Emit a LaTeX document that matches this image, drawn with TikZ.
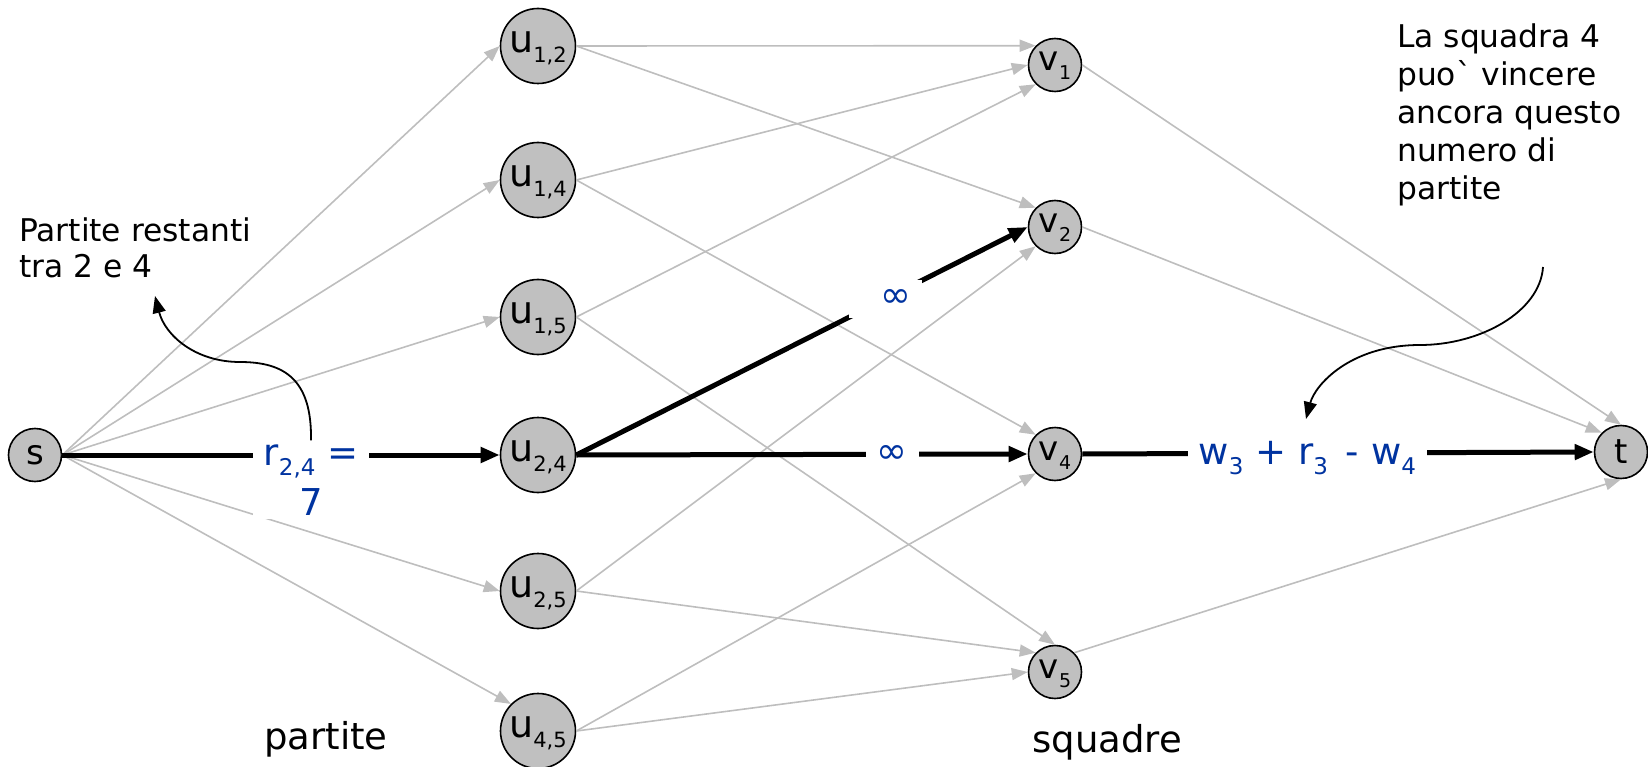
\documentclass[tikz,border=0pt]{standalone}
\usepackage{fontspec}
\setmainfont{DejaVu Sans}
\usetikzlibrary{arrows.meta}
\definecolor{nodegray}{RGB}{192,192,192}
\definecolor{edgegray}{RGB}{190,190,190}
\definecolor{labblue}{RGB}{0,51,160}
\newcommand\bignodefont{\fontsize{38}{44}\selectfont}
\newcommand\smallnodefont{\fontsize{34}{40}\selectfont}
\newcommand\usub[1]{\raisebox{-10pt}{\fontsize{21}{24}\selectfont #1}}
\newcommand\vsub[1]{\raisebox{-9pt}{\fontsize{19}{22}\selectfont #1}}
\newcommand\bsub[1]{\raisebox{-10pt}[0pt][0pt]{\fontsize{23}{27}\selectfont #1}}
\newcommand\bluefont{\fontsize{37}{50}\selectfont}
\newcommand\notefont{\fontsize{31.3}{36}\selectfont}
\newcommand\noteRfont{\fontsize{31.3}{38}\selectfont}
\newcommand\groupfont{\fontsize{37}{44}\selectfont}
\begin{document}
\begin{tikzpicture}[x=1pt,y=-1pt,
  vtx/.style={circle,draw=black,line width=1.6pt,fill=nodegray,inner sep=0pt},
  bigvtx/.style={vtx,minimum size=75pt,font=\bignodefont,text height=22pt,text depth=9pt},
  smallvtx/.style={vtx,minimum size=53pt,font=\smallnodefont},
  vvtx/.style={smallvtx,text height=19pt,text depth=7pt},
  gedge/.style={draw=edgegray,line width=1.6pt,-{Triangle[length=16pt,width=12pt]}},
  bedge/.style={draw=black,line width=5pt,-{Triangle[length=19pt,width=15pt]}},
  blab/.style={fill=white,text=labblue,font=\bluefont,inner xsep=11pt,inner ysep=4pt},
  notetext/.style={inner sep=0pt,align=left,anchor=north west},
  grouptext/.style={inner sep=0pt,font=\groupfont,anchor=base},
  notearrow/.style={draw=black,line width=1.8pt,-{Triangle[length=17pt,width=13pt]}}]
\useasboundingbox (0,0) rectangle (1648,767);

% nodes
\node[smallvtx] (s) at (35,455) {s};
\node[bigvtx] (u12) at (538,46)  {u\usub{1,2}};
\node[bigvtx] (u14) at (538,180) {u\usub{1,4}};
\node[bigvtx] (u15) at (538,317) {u\usub{1,5}};
\node[bigvtx] (u24) at (538,455) {u\usub{2,4}};
\node[bigvtx] (u25) at (538,591) {u\usub{2,5}};
\node[bigvtx] (u45) at (538,731) {u\usub{4,5}};
\node[vvtx] (v1) at (1055,65)  {v\vsub{1}};
\node[vvtx] (v2) at (1055,227) {v\vsub{2}};
\node[vvtx] (v4) at (1055,454) {v\vsub{4}};
\node[vvtx] (v5) at (1055,672) {v\vsub{5}};
\node[smallvtx] (t) at (1621,452) {t};

% gray edges
\draw[gedge] (s.east) -- (u12.west);
\draw[gedge] (s.east) -- (u14.west);
\draw[gedge] (s.east) -- (u15.west);
\draw[gedge] (s.east) -- (u25.west);
\draw[gedge] (s.east) -- (u45.north west);
\draw[gedge] (u12.east) -- (v1.north west);
\draw[gedge] (u12.east) -- (v2.north west);
\draw[gedge] (u14.east) -- (v1.west);
\draw[gedge] (u14.east) -- (v4.north west);
\draw[gedge] (u15.east) -- (v1.south west);
\draw[gedge] (u15.east) -- (v5.north);
\draw[gedge] (u25.east) -- (v2.south west);
\draw[gedge] (u25.east) -- (v5.north west);
\draw[gedge] (u45.east) -- (v4.south west);
\draw[gedge] (u45.east) -- (v5.west);
\draw[gedge] (v1.east) -- (t.north);
\draw[gedge] (v2.east) -- (t.north west);
\draw[gedge] (v5.north east) -- (t.south);

% black edges
\draw[bedge] (s.east) -- (u24.west);
\node[blab,align=center] (rlab) at (311,480) {r\bsub{2,4} =\\7};
\draw[bedge] (u24.east) -- node[blab,pos=0.685,inner ysep=10pt] (inf1) {\hspace*{20pt}∞} (v2.west);
\draw[bedge] (u24.east) -- node[blab,pos=0.70] (inf2) {∞} (v4.west);
\draw[bedge] (v4.east) -- node[blab,pos=0.44] (wlab) {w\bsub{3} + r\bsub{3}\, - w\bsub{4}} (t.west);

% notes
\node[notetext,font=\notefont] (noteL) at (19,218) {Partite restanti\\tra 2 e 4};
\node[notetext,font=\noteRfont] (noteR) at (1397,24) {La squadra 4\\puo\textasciigrave{} vincere\\ancora questo\\numero di\\partite};
\coordinate (tipL) at (155,296);
\coordinate (startR) at (1543,267);
\coordinate (tipR) at (1306,419);
\draw[notearrow] (rlab.north) .. controls (312,380) and (285,362) .. (240,362) .. controls (195,362) and (165,335) .. (tipL);
\draw[notearrow] (startR) .. controls (1540,312) and (1480,345) .. (1420,345) .. controls (1350,345) and (1315,385) .. (tipR);

% group labels
\node[grouptext] (partite) at (326,749) {partite};
\node[grouptext] (squadre) at (1107,752) {squadre};
\end{tikzpicture}
\end{document}
